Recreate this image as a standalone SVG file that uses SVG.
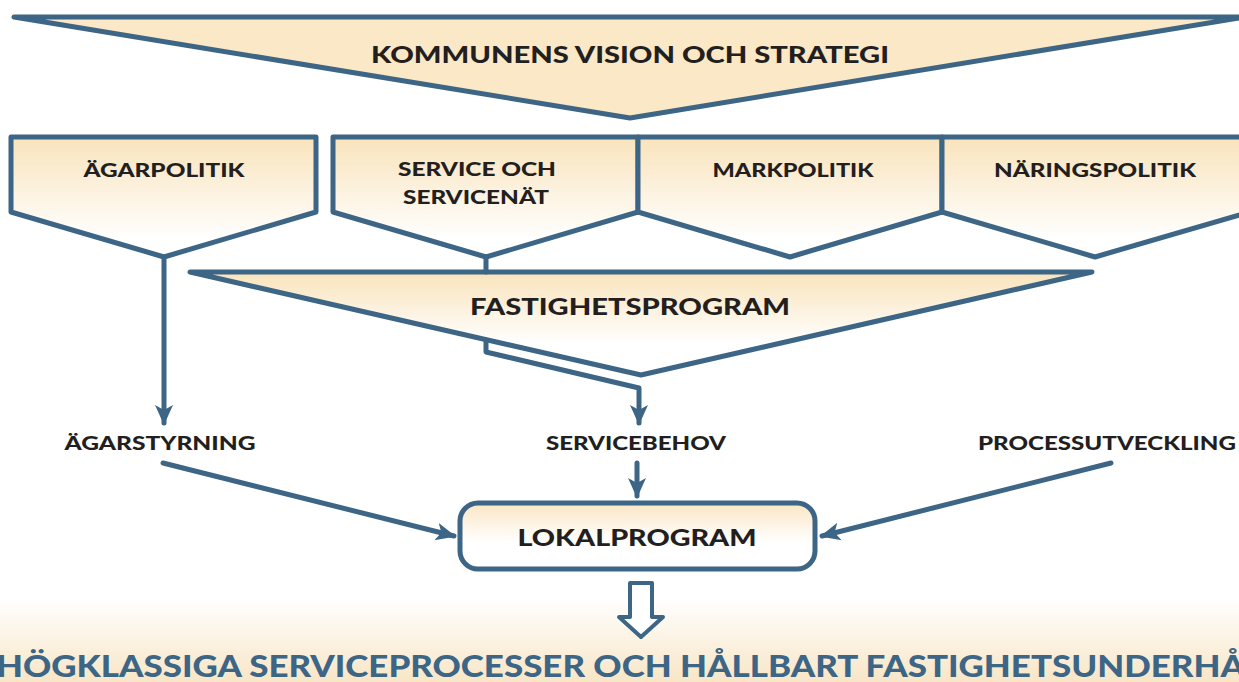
<svg xmlns="http://www.w3.org/2000/svg" width="1239" height="682" viewBox="0 0 1239 682">
  <defs>
    <linearGradient id="boxFill" x1="0" y1="0" x2="0" y2="1">
      <stop offset="0" stop-color="#f9e3bb"/>
      <stop offset="0.85" stop-color="#ffffff"/>
    </linearGradient>
    <linearGradient id="progFill" x1="0" y1="0" x2="0" y2="1">
      <stop offset="0" stop-color="#f9e3bb"/>
      <stop offset="0.7" stop-color="#ffffff"/>
    </linearGradient>
    <linearGradient id="lokalFill" x1="0" y1="0" x2="0" y2="1">
      <stop offset="0" stop-color="#fae6c4"/>
      <stop offset="0.6" stop-color="#ffffff"/>
    </linearGradient>
    <linearGradient id="bandFill" x1="0" y1="0" x2="0" y2="1">
      <stop offset="0" stop-color="#ffffff"/>
      <stop offset="1" stop-color="#f8e6c6"/>
    </linearGradient>
    <marker id="head" viewBox="0 0 20 20" refX="18" refY="10" markerWidth="20" markerHeight="20" markerUnits="userSpaceOnUse" orient="auto">
      <path d="M0,1 L20,10 L0,19 L5,10 Z" fill="#3d6585"/>
    </marker>
    <style>
      .shape { stroke: #3d6585; stroke-width: 5; stroke-linejoin: round; }
      .conn { fill: none; stroke: #3d6585; stroke-width: 5; stroke-linecap: round; stroke-linejoin: round; }
      .lbl { font-family: Lato, "Liberation Sans", sans-serif; font-weight: 900; fill: #231f20; text-anchor: middle; }
      .big { font-size: 23px; }
      .mid { font-size: 18.5px; }
      .out { font-family: Lato, "Liberation Sans", sans-serif; font-weight: 900; fill: #3d6585; font-size: 31px; }
    </style>
  </defs>

  <rect width="1239" height="682" fill="#ffffff"/>
  <!-- soft band behind the outcome line -->
  <rect x="0" y="598" width="1239" height="84" fill="url(#bandFill)"/>

  <g id="vision">
    <polygon class="shape" points="14,17 1245,17 630,118" fill="#fae8c6"/>
    <text class="lbl big" x="630" y="63" textLength="518" lengthAdjust="spacingAndGlyphs">KOMMUNENS VISION OCH STRATEGI</text>
  </g>

  <g id="agarpolitik">
    <polygon class="shape" points="11,137 316,137 316,212 164,257 11,212" fill="url(#boxFill)"/>
    <text class="lbl mid" x="164" y="177" textLength="161" lengthAdjust="spacingAndGlyphs">ÄGARPOLITIK</text>
  </g>

  <g id="service">
    <polygon class="shape" points="333,137 638,137 638,212 486,257 333,212" fill="url(#boxFill)"/>
    <text class="lbl mid" x="477" y="176" textLength="158" lengthAdjust="spacingAndGlyphs">SERVICE OCH</text>
    <text class="lbl mid" x="476" y="204" textLength="146" lengthAdjust="spacingAndGlyphs">SERVICENÄT</text>
  </g>

  <g id="markpolitik">
    <polygon class="shape" points="638,137 942,137 942,212 790,257 638,212" fill="url(#boxFill)"/>
    <text class="lbl mid" x="793" y="177" textLength="161" lengthAdjust="spacingAndGlyphs">MARKPOLITIK</text>
  </g>

  <g id="naringspolitik">
    <polygon class="shape" points="942,137 1250,137 1250,212 1095,257 942,212" fill="url(#boxFill)"/>
    <text class="lbl mid" x="1095" y="177" textLength="202" lengthAdjust="spacingAndGlyphs">NÄRINGSPOLITIK</text>
  </g>

  <g id="fastighetsprogram">
    <polygon class="shape" points="190,272 1092,272 641,375" fill="url(#progFill)"/>
    <text class="lbl big" x="630" y="315" textLength="320" lengthAdjust="spacingAndGlyphs">FASTIGHETSPROGRAM</text>
  </g>

  <g id="agarstyrning">
    <text class="lbl mid" x="160" y="450" textLength="191" lengthAdjust="spacingAndGlyphs">ÄGARSTYRNING</text>
  </g>

  <g id="servicebehov">
    <text class="lbl mid" x="636" y="450" textLength="180" lengthAdjust="spacingAndGlyphs">SERVICEBEHOV</text>
  </g>

  <g id="processutveckling">
    <text class="lbl mid" x="1107" y="450" textLength="258" lengthAdjust="spacingAndGlyphs">PROCESSUTVECKLING</text>
  </g>

  <g id="lokalprogram">
    <rect class="shape" x="460" y="503" width="355" height="66" rx="18" fill="url(#lokalFill)"/>
    <text class="lbl big" x="637" y="546" textLength="239" lengthAdjust="spacingAndGlyphs">LOKALPROGRAM</text>
  </g>

  <g id="connectors">
    <!-- Ägarpolitik down to Ägarstyrning -->
    <path class="conn" d="M164,257 L164,423" stroke-linecap="butt" marker-end="url(#head)"/>
    <!-- Service och servicenät into Fastighetsprogram -->
    <path class="conn" d="M486,257 L486,272" stroke-linecap="butt"/>
    <!-- Fastighetsprogram down to Servicebehov -->
    <path class="conn" d="M486,340 L486,352 L639,388 L639,423" stroke-linecap="butt" marker-end="url(#head)"/>
    <!-- Servicebehov to Lokalprogram -->
    <path class="conn" d="M637,463 L637,496" stroke-linecap="butt" marker-end="url(#head)"/>
    <!-- Ägarstyrning to Lokalprogram -->
    <path class="conn" d="M163,463 L454,536" marker-end="url(#head)"/>
    <!-- Processutveckling to Lokalprogram -->
    <path class="conn" d="M1111,463 L822,536" marker-end="url(#head)"/>
  </g>

  <g id="result-arrow">
    <polygon points="630,583 652,583 652,617 663,617 641,637 619,617 630,617" fill="#ffffff" stroke="#3d6585" stroke-width="4" stroke-linejoin="round"/>
  </g>

  <g id="outcome">
    <text class="out" x="-4" y="677" textLength="1249" lengthAdjust="spacingAndGlyphs">HÖGKLASSIGA SERVICEPROCESSER OCH HÅLLBART FASTIGHETSUNDERHÅ</text>
  </g>
</svg>
